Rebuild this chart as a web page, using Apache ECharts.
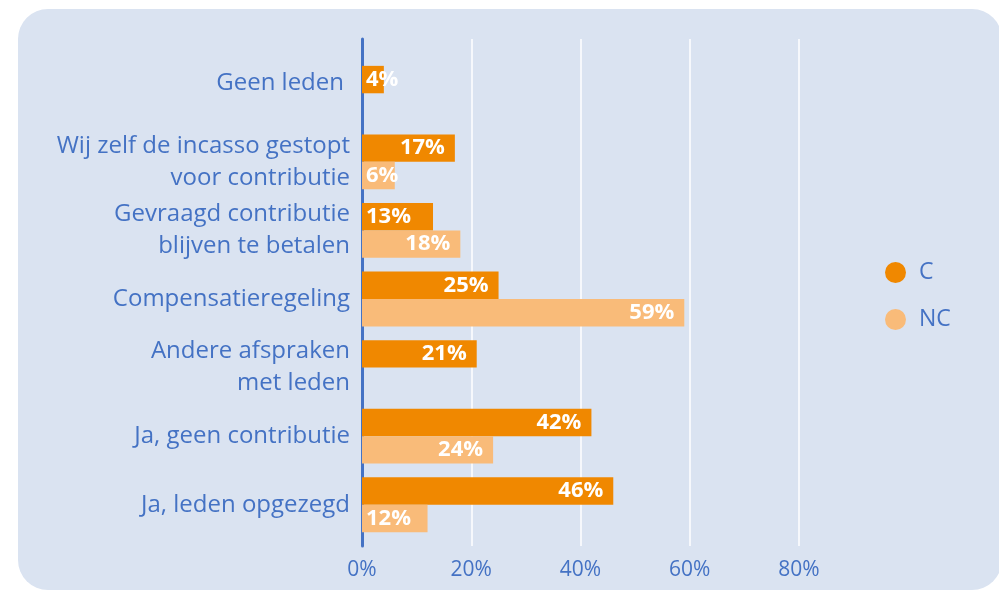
<!DOCTYPE html>
<html>
<head>
<meta charset="utf-8">
<script src="https://cdn.jsdelivr.net/npm/echarts@6/dist/echarts.min.js"></script>
<style>
  html, body { margin: 0; padding: 0; background: #fff; }
  #chart { width: 999px; height: 591px; }
</style>
</head>
<body>
<div id="chart"></div>
<script>
// categorieen (van boven naar beneden)
var categories = [
    'Geen leden',
    'Wij zelf de incasso gestopt\nvoor contributie',
    'Gevraagd contributie\nblijven te betalen',
    'Compensatieregeling',
    'Andere afspraken\nmet leden',
    'Ja, geen contributie',
    'Ja, leden opgezegd'
];
var valuesC = [4, 17, 13, 25, 21, 42, 46];
var valuesNC = [null, 6, 18, 59, null, 24, 12];
var xTicks = [0, 20, 40, 60, 80];

var blue = '#4472c4';
var orange = '#f08800';
var lightOrange = '#f9bb79';

// kleine balken: label links in de balk, anders rechts
function barData(list) {
    return list.map(function (v) {
        if (v === null) return null;
        var small = v < 15;
        return {
            value: v,
            label: {
                position: small ? 'insideLeft' : 'insideRight',
                distance: small ? 4 : 10
            }
        };
    });
}

var chart = echarts.init(document.getElementById('chart'));

var labelStyle = {
    show: true,
    color: '#fff',
    fontFamily: 'Open Sans',
    fontWeight: 'bold',
    fontSize: 22,
    formatter: function (p) { return p.value + '%'; }
};

chart.setOption({
    backgroundColor: '#ffffff',
    animation: false,
    graphic: [{
        type: 'rect',
        z: -10,
        silent: true,
        shape: { x: 18, y: 9, width: 984, height: 581, r: 30 },
        style: { fill: '#dae3f1' }
    }],
    legend: {
        orient: 'vertical',
        left: 880,
        top: 256,
        icon: 'circle',
        itemWidth: 21,
        itemHeight: 21,
        itemGap: 24,
        textStyle: {
            color: blue,
            fontFamily: 'Open Sans',
            fontSize: 23,
            padding: [0, 0, 0, 8]
        },
        data: ['C', 'NC']
    },
    grid: [
        { left: 362, right: 200, top: 39, bottom: 45 },
        { left: 362, right: 200, top: 59, bottom: 52 }
    ],
    xAxis: [{
        gridIndex: 0,
        type: 'value',
        min: xTicks[0],
        max: xTicks[xTicks.length - 1],
        interval: 20,
        axisLine: { show: false },
        axisTick: { show: false },
        splitLine: { lineStyle: { color: '#ffffff', width: 1.5 } },
        axisLabel: {
            color: blue,
            fontFamily: 'Open Sans',
            fontSize: 21,
            margin: 14,
            formatter: '{value}%'
        }
    }, {
        gridIndex: 1,
        type: 'value',
        min: xTicks[0],
        max: xTicks[xTicks.length - 1],
        show: false
    }],
    yAxis: [{
        gridIndex: 0,
        type: 'value',
        axisLine: { show: true, lineStyle: { color: blue, width: 3, cap: 'round' } },
        axisTick: { show: false },
        axisLabel: { show: false },
        splitLine: { show: false }
    }, {
        gridIndex: 1,
        type: 'category',
        inverse: true,
        data: categories,
        axisLine: { show: false },
        axisTick: { show: false },
        axisLabel: {
            color: blue,
            fontFamily: 'Open Sans',
            fontSize: 24,
            lineHeight: 32,
            margin: 12,
            align: 'right',
            // de bovenste categorie staat bij de enige (bovenste) balk
            formatter: function (v, i) {
                return i === 0 ? '{up|' + v + '}' : v;
            },
            rich: {
                up: {
                    color: blue,
                    fontFamily: 'Open Sans',
                    fontSize: 24,
                    lineHeight: 32,
                    padding: [0, 6, 20, 0]
                }
            }
        }
    }],
    series: [{
        name: 'C',
        type: 'bar',
        xAxisIndex: 1,
        yAxisIndex: 1,
        data: barData(valuesC),
        itemStyle: { color: orange },
        barGap: '0%',
        barCategoryGap: '20%',
        label: labelStyle
    }, {
        name: 'NC',
        type: 'bar',
        xAxisIndex: 1,
        yAxisIndex: 1,
        data: barData(valuesNC),
        itemStyle: { color: lightOrange },
        barGap: '0%',
        barCategoryGap: '20%',
        label: labelStyle
    }]
});
</script>
</body>
</html>
